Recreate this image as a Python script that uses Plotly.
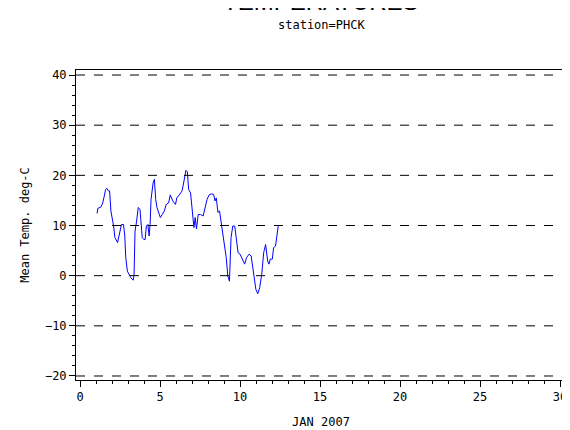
import plotly.graph_objects as go

# day of January 2007 (fractional) and mean temperature
day = [1.07, 1.11, 1.31, 1.42, 1.52, 1.60, 1.69, 1.77, 1.85, 1.93, 2.10, 2.18, 2.35, 2.45,
       2.59, 2.72, 2.80, 2.86, 2.96, 3.17, 3.33, 3.38, 3.44, 3.54, 3.64, 3.75, 3.83, 3.89,
       3.99, 4.07, 4.15, 4.24, 4.32, 4.38, 4.44, 4.57, 4.65, 4.73, 4.81, 4.94, 5.02, 5.14,
       5.27, 5.39, 5.54, 5.64, 5.80, 5.97, 6.05, 6.21, 6.38, 6.50, 6.62, 6.71, 6.79, 6.91,
       7.04, 7.12, 7.20, 7.28, 7.39, 7.53, 7.70, 7.82, 7.94, 8.07, 8.21, 8.35, 8.44, 8.52,
       8.62, 8.72, 8.83, 8.93, 9.03, 9.14, 9.24, 9.34, 9.44, 9.55, 9.67, 9.75, 9.88, 10.0,
       10.17, 10.29, 10.41, 10.57, 10.70, 10.78, 10.89, 10.99, 11.11, 11.23, 11.36, 11.48,
       11.60, 11.73, 11.81, 11.89, 12.02, 12.10, 12.22, 12.30, 12.39]
temp = [12.4, 13.4, 13.7, 14.5, 15.9, 17.2, 17.4, 16.9, 16.9, 12.9, 9.9, 7.6, 6.6, 8.2,
        10.2, 10.2, 7.9, 3.6, 0.9, -0.4, -0.9, 0.3, 8.9, 10.9, 13.6, 13.2, 9.9, 7.6,
        7.2, 7.2, 9.9, 10.2, 7.9, 10.2, 15.2, 18.5, 19.2, 15.2, 13.6, 12.2, 11.6, 12.2,
        12.9, 14.2, 14.5, 16.1, 14.9, 14.2, 15.5, 16.1, 16.9, 18.9, 21.0, 20.7, 17.2, 16.5,
        12.9, 9.6, 11.6, 9.3, 12.2, 12.2, 11.9, 13.6, 15.2, 16.1, 16.3, 16.2, 14.9, 15.5,
        12.6, 12.9, 10.6, 7.6, 5.9, 3.6, -0.1, -1.1, 7.6, 9.9, 9.9, 8.2, 4.6, 4.3,
        3.3, 2.3, 3.6, 4.3, 3.9, 2.3, -0.4, -2.7, -3.6, -2.4, 0.3, 4.6,
        6.2, 2.9, 2.3, 3.3, 3.3, 5.6, 5.9, 7.6, 9.9]

x_ticks = [0, 5, 10, 15, 20, 25, 30]
y_ticks = [-20, -10, 0, 10, 20, 30, 40]

mono = dict(family="DejaVu Sans Mono", size=12, color="black")

fig = go.Figure(go.Scatter(x=day, y=temp, mode="lines", line=dict(color="blue", width=1)))

# dashed reference lines at each major y tick
for yv in y_ticks:
    fig.add_shape(type="line", xref="paper", x0=0, x1=1, y0=yv, y1=yv,
                  line=dict(color="black", width=1, dash="dash"))

axis_common = dict(showgrid=False, zeroline=False, showline=True, linecolor="black",
                   linewidth=1, mirror=True, ticks="outside", ticklen=6, tickcolor="black",
                   tickfont=mono, automargin=False,
                   minor=dict(ticks="outside", ticklen=3, tickcolor="black"))

fig.update_xaxes(range=[-0.25, 30.375], tickvals=x_ticks, minor_dtick=1,
                 title=dict(text="JAN 2007", font=mono, standoff=14), **axis_common)
fig.update_yaxes(range=[-20.8, 41], tickvals=y_ticks, minor_dtick=2,
                 title=dict(text="Mean Temp. deg-C", font=mono, standoff=12), **axis_common)

fig.add_annotation(text="TEMPERATURES", xref="paper", yref="paper", x=0.5, y=1.17,
                   xanchor="center", yanchor="bottom", showarrow=False,
                   font=dict(family="Liberation Sans Narrow, Liberation Sans", size=24, color="black"))
fig.add_annotation(text="station=PHCK", xref="paper", yref="paper", x=0.5, y=1.115,
                   xanchor="center", yanchor="bottom", showarrow=False, font=mono)

fig.update_layout(
    width=570, height=430, showlegend=False,
    plot_bgcolor="white", paper_bgcolor="white",
    margin=dict(l=68, r=12, t=62, b=58),
)

fig.write_html("out.html")
